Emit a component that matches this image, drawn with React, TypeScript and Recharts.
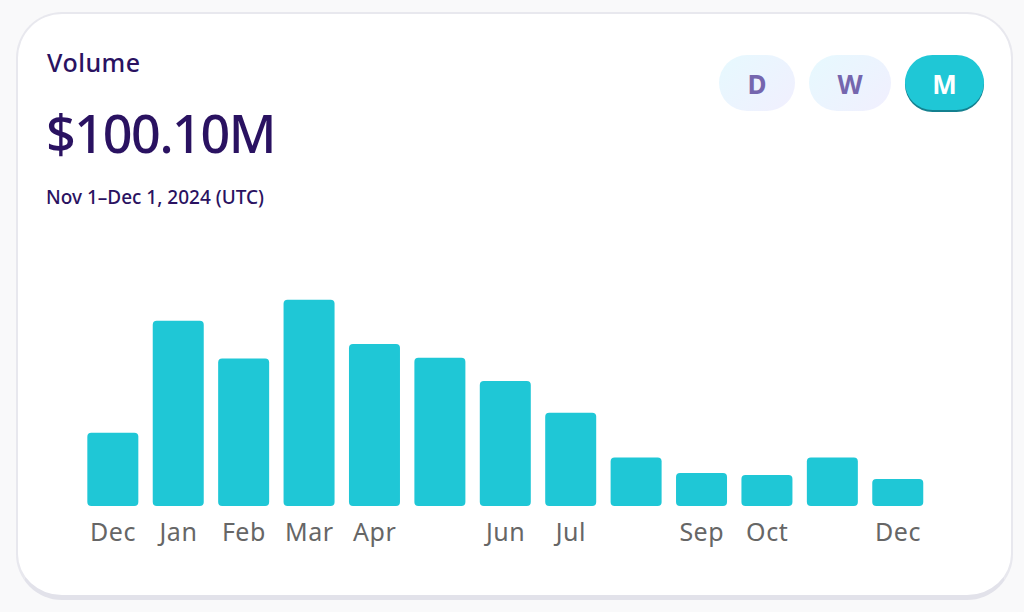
import { BarChart, Bar, XAxis, YAxis } from "recharts";

const months = ["Dec", "Jan", "Feb", "Mar", "Apr", "May", "Jun", "Jul", "Aug", "Sep", "Oct", "Nov", "Dec"];
const volumes = [271, 686, 546, 764, 600, 549, 463, 345, 180, 122, 115, 180, 100.1];
// these labels are dropped in the original
const hiddenTicks = [5, 8, 11];
const periods = ["D", "W", "M"];

const chartData = months.map((month, i) => ({ month, volume: volumes[i] }));

const FONT = "'Noto Sans', sans-serif";
const NAVY = "#2a1261";

const buttonBoxes = [
  { left: 719, width: 76 },
  { left: 809, width: 82 },
  { left: 905, width: 79 },
];

const PeriodButton = ({ label, index }: { label: string; index: number }) => {
  const active = label === "M";
  return (
    <div
      style={{
        position: "absolute",
        top: 55,
        left: buttonBoxes[index].left,
        width: buttonBoxes[index].width,
        height: active ? 55 : 56,
        borderRadius: 28,
        background: active ? "#1fc7d6" : "linear-gradient(135deg, #e6f9fe, #f1effe)",
        boxShadow: active ? "0 2px 0 #14808f" : "none",
        color: active ? "#ffffff" : "#7566ae",
        fontFamily: FONT,
        fontWeight: 700,
        fontSize: 26,
        lineHeight: "58px",
        textAlign: "center",
      }}
    >
      {label}
    </div>
  );
};

const label = (left: number, top: number, fontSize: number, fontWeight = 400, letterSpacing = 0) => ({
  position: "absolute" as const,
  left,
  top,
  margin: 0,
  color: NAVY,
  fontFamily: FONT,
  fontSize,
  fontWeight,
  letterSpacing,
  lineHeight: 1,
  whiteSpace: "nowrap" as const,
});

export default function App() {
  return (
    <div style={{ position: "absolute", left: 0, top: 0, width: 1024, height: 612, background: "#f9f9fa", overflow: "hidden" }}>
      <div
        style={{
          position: "absolute",
          left: 16,
          top: 12,
          width: 997,
          height: 588,
          boxSizing: "border-box",
          background: "#ffffff",
          border: "2px solid #e8e8ee",
          borderBottomWidth: 5,
          borderBottomColor: "#e2e2ea",
          borderRadius: 46,
        }}
      />
      <div style={label(47, 50, 25, 500, 0.5)}>Volume</div>
      <div style={label(46, 107, 52, 500, -1.4)}>$100.10M</div>
      <div style={label(46, 188, 19, 500, 0)}>Nov 1–Dec 1, 2024 (UTC)</div>
      {periods.map((p, i) => (
        <PeriodButton key={p} label={p} index={i} />
      ))}
      <div style={{ position: "absolute", left: 0, top: 0 }}>
        <BarChart
          width={1024}
          height={612}
          data={chartData}
          barSize={51}
          margin={{ top: 290, right: 93.33, bottom: 0, left: 80.33 }}
        >
          <XAxis
            dataKey="month"
            height={106}
            axisLine={false}
            tickLine={false}
            interval={0}
            tickMargin={11}
            tick={{ fontSize: 25, fill: "#666666", fontFamily: FONT, letterSpacing: 0.5 }}
            tickFormatter={(v: string, i: number) => (hiddenTicks.includes(i) ? "" : v)}
          />
          <YAxis hide domain={[0, 800]} />
          <Bar dataKey="volume" fill="#1fc7d6" radius={4} isAnimationActive={false} />
        </BarChart>
      </div>
    </div>
  );
}
